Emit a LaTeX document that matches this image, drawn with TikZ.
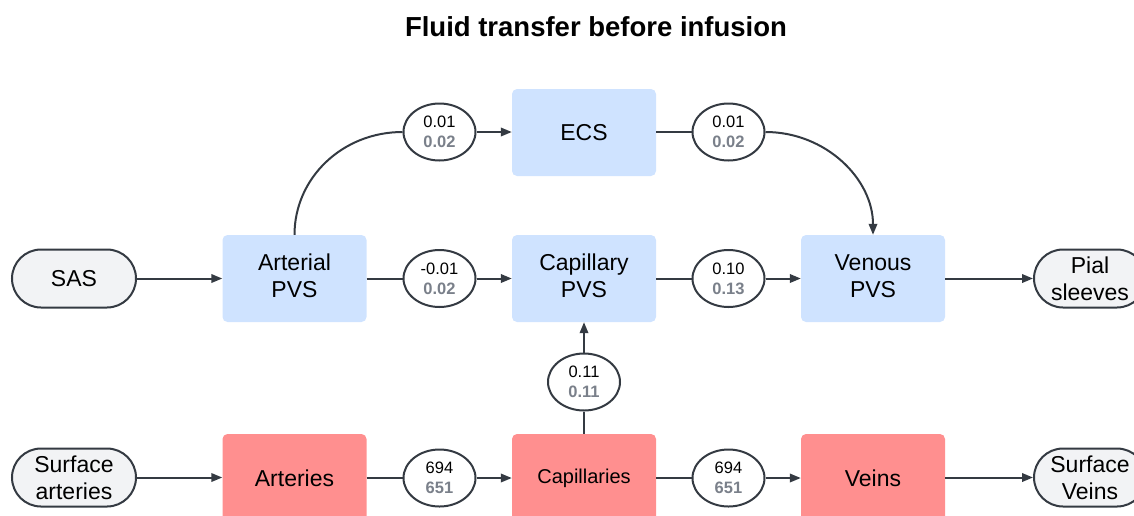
\documentclass[tikz,border=0pt]{standalone}
\usepackage{fontspec}
\setmainfont{Liberation Sans}
\usetikzlibrary{arrows.meta,shapes.geometric}
\definecolor{edgec}{HTML}{343A42}
\definecolor{pvsblue}{HTML}{CFE3FF}
\definecolor{vesselred}{HTML}{FF8F8F}
\definecolor{termfill}{HTML}{F2F3F5}
\definecolor{numgray}{HTML}{7A808A}
\begin{document}
\begin{tikzpicture}[x=1pt,y=-1pt,
  pvs/.style={fill=pvsblue, rounded corners=5pt, minimum width=144pt, minimum height=87pt, inner sep=0pt, align=center, font=\fontsize{23}{27}\selectfont},
  vessel/.style={fill=vesselred, rounded corners=5pt, minimum width=144pt, minimum height=88pt, inner sep=0pt, align=center, font=\fontsize{23}{27}\selectfont},
  term/.style={draw=edgec, line width=2pt, fill=termfill, rounded corners=29pt, minimum width=124pt, minimum height=58pt, inner sep=0pt, align=center, font=\fontsize{23}{27}\selectfont},
  flux/.style={ellipse, draw=edgec, line width=2pt, fill=white, minimum width=72pt, minimum height=57pt, inner sep=0pt, align=center, font=\fontsize{16.5}{20}\selectfont},
  conn/.style={draw=edgec, line width=2pt},
  arr/.style={conn, -{Triangle[length=11pt,width=8.5pt]}}
]
\useasboundingbox (0,0) rectangle (1134,515);
\clip (0,0) rectangle (1134,515);

\node[font=\fontsize{27.5}{32}\selectfont\bfseries] (title) at (596,27) {Fluid transfer before infusion};

% top row
\node[pvs] (ecs) at (584,132.5) {ECS};
\node[flux] (f1) at (439.5,132) {0.01\\{\color{numgray}\bfseries 0.02}};
\node[flux] (f4) at (728.5,132) {0.01\\{\color{numgray}\bfseries 0.02}};

% middle row
\node[term] (sas) at (74,278.5) {SAS};
\node[pvs] (apvs) at (294.5,278.5) {Arterial\\PVS\rule[-5pt]{0pt}{0pt}};
\node[flux] (f2) at (439.5,278.5) {-0.01\\{\color{numgray}\bfseries 0.02}};
\node[pvs] (cpvs) at (584,278.5) {Capillary\\PVS\rule[-5pt]{0pt}{0pt}};
\node[flux] (f3) at (728.5,278.5) {0.10\\{\color{numgray}\bfseries 0.13}};
\node[pvs] (vpvs) at (873,278.5) {Venous\\PVS\rule[-5pt]{0pt}{0pt}};
\node[term, minimum width=112pt] (pial) at (1090,278.5) {Pial\\sleeves};

% vertical flux
\node[flux] (f5) at (584,382) {0.11\\{\color{numgray}\bfseries 0.11}};

% bottom row
\node[term] (sart) at (74,477.5) {Surface\\arteries};
\node[vessel] (art) at (294.5,478) {Arteries};
\node[flux] (f6) at (439.5,478) {694\\{\color{numgray}\bfseries 651}};
\node[vessel, font=\fontsize{20}{24}\selectfont] (cap) at (584,478) {Capillaries};
\node[flux] (f7) at (728.5,478) {694\\{\color{numgray}\bfseries 651}};
\node[vessel] (veins) at (873,478) {Veins};
\node[term, minimum width=112pt] (sveins) at (1090,477.5) {Surface\\Veins};

% connectors: top
\draw[conn] (apvs.north) .. controls +(0,-57) and +(-60,0) .. (f1.west);
\draw[arr] (f1.east) -- (ecs.west |- f1.east);
\draw[conn] (ecs.east |- f4.west) -- (f4.west);
\draw[arr] (f4.east) .. controls +(60,0) and +(0,-56) .. (vpvs.north);

% connectors: middle
\draw[arr] (sas.east) -- (apvs.west);
\draw[conn] (apvs.east) -- (f2.west);
\draw[arr] (f2.east) -- (cpvs.west);
\draw[conn] (cpvs.east) -- (f3.west);
\draw[arr] (f3.east) -- (vpvs.west);
\draw[arr] (vpvs.east) -- (pial.west);

% vertical
\draw[conn] (cap.north) -- (f5.south);
\draw[arr] (f5.north) -- (cpvs.south);

% bottom
\draw[arr] (sart.east) -- (art.west |- sart.east);
\draw[conn] (art.east) -- (f6.west);
\draw[arr] (f6.east) -- (cap.west);
\draw[conn] (cap.east) -- (f7.west);
\draw[arr] (f7.east) -- (veins.west);
\draw[arr] (veins.east |- sveins.west) -- (sveins.west);
\end{tikzpicture}
\end{document}
